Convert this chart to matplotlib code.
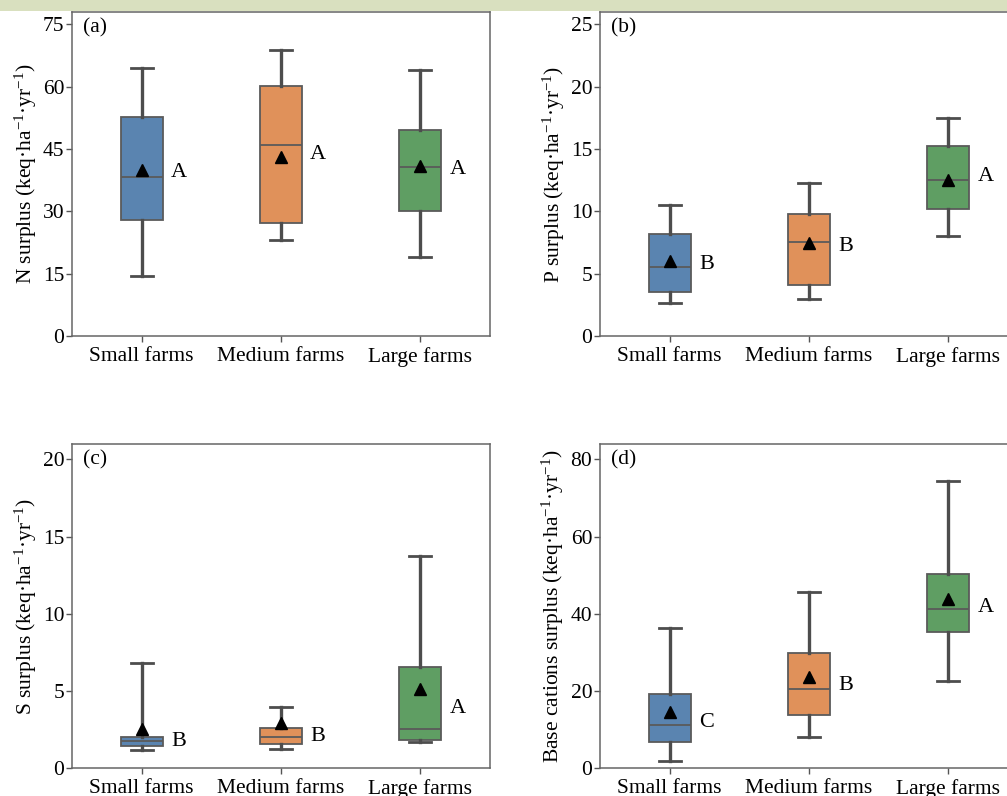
import matplotlib
matplotlib.use("Agg")
import matplotlib.pyplot as plt
from matplotlib.patches import Rectangle

plt.rcParams["font.family"] = ["Liberation Serif", "DejaVu Serif"]
plt.rcParams["mathtext.fontset"] = "custom"
plt.rcParams["mathtext.rm"] = "Liberation Serif"
plt.rcParams["mathtext.it"] = "Liberation Serif:italic"

categories = ["Small farms", "Medium farms", "Large farms"]
colors = ["#5a84b0", "#e0915a", "#5f9e63"]

# Box statistics per panel: whisker low, Q1, median, Q3, whisker high, mean
n_low = [14.5, 23.1, 18.9]
n_q1 = [28.0, 27.3, 30.0]
n_med = [38.2, 45.9, 40.8]
n_q3 = [52.7, 60.1, 49.7]
n_high = [64.5, 68.8, 64.1]
n_mean = [40.0, 43.1, 41.0]
n_letters = ["A", "A", "A"]

p_low = [2.67, 2.97, 8.04]
p_q1 = [3.50, 4.07, 10.16]
p_med = [5.56, 7.54, 12.51]
p_q3 = [8.16, 9.78, 15.26]
p_high = [10.48, 12.25, 17.48]
p_mean = [6.04, 7.43, 12.50]
p_letters = ["B", "B", "A"]

s_low = [1.18, 1.20, 1.66]
s_q1 = [1.44, 1.55, 1.83]
s_med = [1.72, 2.02, 2.52]
s_q3 = [1.98, 2.58, 6.52]
s_high = [6.80, 3.96, 13.76]
s_mean = [2.56, 2.90, 5.15]
s_letters = ["B", "B", "A"]

b_low = [1.9, 8.0, 22.5]
b_q1 = [6.8, 13.8, 35.3]
b_med = [11.1, 20.4, 41.3]
b_q3 = [19.1, 29.9, 50.2]
b_high = [36.4, 45.7, 74.5]
b_mean = [14.6, 23.7, 43.7]
b_letters = ["C", "B", "A"]

# Vertical placement of the significance letters
n_letter_y = [39.3, 43.6, 40.0]
p_letter_y = [5.7, 7.16, 12.78]
s_letter_y = [1.70, 2.02, 3.88]
b_letter_y = [11.8, 21.5, 41.7]

unit = "(keq·ha$^{-1}$·yr$^{-1}$)"
panels = [
    dict(tag="(a)", ylabel="N surplus " + unit, ylim=78, ticks=[0, 15, 30, 45, 60, 75],
         low=n_low, q1=n_q1, med=n_med, q3=n_q3, high=n_high, mean=n_mean,
         letters=n_letters, ly=n_letter_y, pos=[72, 12]),
    dict(tag="(b)", ylabel="P surplus " + unit, ylim=26, ticks=[0, 5, 10, 15, 20, 25],
         low=p_low, q1=p_q1, med=p_med, q3=p_q3, high=p_high, mean=p_mean,
         letters=p_letters, ly=p_letter_y, pos=[600, 12]),
    dict(tag="(c)", ylabel="S surplus " + unit, ylim=21, ticks=[0, 5, 10, 15, 20],
         low=s_low, q1=s_q1, med=s_med, q3=s_q3, high=s_high, mean=s_mean,
         letters=s_letters, ly=s_letter_y, pos=[72, 444]),
    dict(tag="(d)", ylabel="Base cations surplus " + unit, ylim=84, ticks=[0, 20, 40, 60, 80],
         low=b_low, q1=b_q1, med=b_med, q3=b_q3, high=b_high, mean=b_mean,
         letters=b_letters, ly=b_letter_y, pos=[600, 444]),
]

W, H = 1007, 796
fig = plt.figure(figsize=(W / 100, H / 100), dpi=100)

# Header band across the top
fig.patches.append(Rectangle((0, 1 - 11 / H), 1, 11 / H, transform=fig.transFigure,
                             facecolor="#d9e0bf", edgecolor="none", zorder=0))

ax_w, ax_h = 418, 324
fs = 15.5
edge = "#5a5a5a"
whisk = "#4d4d4d"

for pnl in panels:
    x0, ytop = pnl["pos"]
    ax = fig.add_axes([x0 / W, 1 - (ytop + ax_h) / H, ax_w / W, ax_h / H])
    stats = []
    for i, name in enumerate(categories):
        stats.append(dict(label=name, whislo=pnl["low"][i], q1=pnl["q1"][i],
                          med=pnl["med"][i], q3=pnl["q3"][i], whishi=pnl["high"][i],
                          mean=pnl["mean"][i], fliers=[]))
    bp = ax.bxp(stats, positions=range(3), widths=0.3, patch_artist=True,
                showmeans=True, showfliers=False,
                boxprops=dict(edgecolor=edge, linewidth=1.3),
                medianprops=dict(color=edge, linewidth=1.3),
                whiskerprops=dict(color=whisk, linewidth=2.4),
                capprops=dict(color=whisk, linewidth=2.0),
                capwidths=0.16,
                meanprops=dict(marker="^", markerfacecolor="black",
                               markeredgecolor="black", markersize=8))
    for patch, c in zip(bp["boxes"], colors):
        patch.set_facecolor(c)
    for i, (lt, y) in enumerate(zip(pnl["letters"], pnl["ly"])):
        ax.text(i + 0.21, y, lt, ha="left", va="center", fontsize=fs + 0.5)
    ax.set_xlim(-0.5, 2.5)
    ax.set_ylim(0, pnl["ylim"])
    ax.set_yticks(pnl["ticks"])
    ax.set_xticks(range(3))
    ax.set_xticklabels(categories)
    ax.tick_params(axis="both", labelsize=fs, direction="out", length=4,
                   width=1, color="#555555")
    ax.tick_params(axis="y", pad=1.5)
    ax.tick_params(axis="x", pad=4)
    for sp in ax.spines.values():
        sp.set_color("#666666")
        sp.set_linewidth(1.1)
    ax.set_ylabel(pnl["ylabel"], fontsize=fs, labelpad=3)
    ax.text(0.026, 0.95, pnl["tag"], transform=ax.transAxes, ha="left",
            va="center", fontsize=fs)

fig.savefig("out.png", dpi=100)
